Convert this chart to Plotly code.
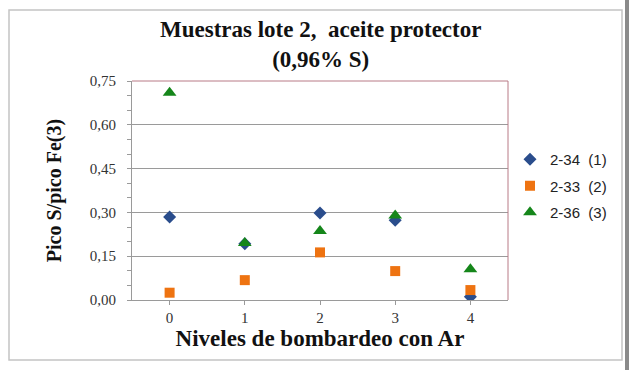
import plotly.graph_objects as go

# Bombardment levels (x categories)
niveles = [0, 1, 2, 3, 4]

# S/Fe(3) peak ratios per sample
s_2_34 = [0.284, 0.193, 0.298, 0.273, 0.011]
s_2_33 = [0.025, 0.068, 0.163, 0.099, 0.034]
s_2_36 = [0.710, 0.195, 0.236, 0.289, 0.105]

nombres = ["2-34\u00a0\u00a0(1)", "2-33\u00a0\u00a0(2)", "2-36\u00a0\u00a0(3)"]
y_ticks = [0, 0.15, 0.30, 0.45, 0.60, 0.75]
y_tick_text = ["0,00", "0,15", "0,30", "0,45", "0,60", "0,75"]

W, H = 629, 370
ML, MR, MT, MB = 132, 121, 81, 70
PW, PH = W - ML - MR, H - MT - MB


def px(xp):
    return (xp - ML) / PW


def py(yp):
    return (H - MB - yp) / PH


fig = go.Figure()
fig.add_trace(go.Scatter(
    x=niveles, y=s_2_34, mode="markers", name=nombres[0], legendgroup="a",
    marker=dict(symbol="diamond", size=10, color="#2A4D8C"),
))
fig.add_trace(go.Scatter(
    x=niveles, y=s_2_33, mode="markers", name=nombres[1], legendgroup="b",
    marker=dict(symbol="square", size=10, color="#EE7311"),
))
fig.add_trace(go.Scatter(
    x=niveles, y=s_2_36, mode="markers", name=nombres[2], legendgroup="c",
    marker=dict(symbol="triangle-up", size=12, color="#15861A"),
))

serif = "Liberation Serif, Times New Roman, serif"

fig.update_layout(
    width=W, height=H,
    margin=dict(l=ML, r=MR, t=MT, b=MB),
    paper_bgcolor="white", plot_bgcolor="white",
    annotations=[
        dict(text="<b>Muestras lote 2,\u00a0\u00a0aceite protector<br>(0,96% S)</b>",
             xref="paper", yref="paper", x=px(320), y=py(44),
             xanchor="center", yanchor="middle", showarrow=False,
             font=dict(family=serif, size=23, color="#111111")),
    ],
    showlegend=True,
    legend=dict(
        x=px(510), xanchor="left", y=py(143), yanchor="top",
        font=dict(family="Liberation Sans, Arial, sans-serif", size=15, color="#222222"),
        bgcolor="rgba(0,0,0,0)", tracegroupgap=4, itemwidth=30,
    ),
    xaxis=dict(
        range=[-0.5, 4.5], tickvals=niveles, ticktext=[str(n) for n in niveles],
        showgrid=False, zeroline=False,
        showline=True, linecolor="#9a9a9a", linewidth=1,
        ticks="outside", ticklen=4, tickcolor="#9a9a9a",
        tickfont=dict(family=serif, size=15, color="#333333"),
        title=dict(text="<b>Niveles de bombardeo con Ar</b>",
                   font=dict(family=serif, size=23, color="#111111"), standoff=2),
        fixedrange=True,
    ),
    yaxis=dict(
        range=[0, 0.75], tickvals=y_ticks, ticktext=y_tick_text,
        showgrid=True, gridcolor="#9a9a9a", gridwidth=1, zeroline=False,
        showline=True, linecolor="#9a9a9a", linewidth=1,
        ticks="outside", ticklen=4, tickcolor="#9a9a9a",
        ticklabelstandoff=8,
        minor=dict(dtick=0.05, ticks="outside", ticklen=4, tickcolor="#9a9a9a", showgrid=False),
        tickfont=dict(family=serif, size=15, color="#333333"),
        title=dict(text="<b>Pico S/pico Fe(3)</b>",
                   font=dict(family=serif, size=20, color="#111111"), standoff=22),
        fixedrange=True,
    ),
    shapes=[
        # outer chart frame
        dict(type="rect", xref="paper", yref="paper",
             x0=px(9), x1=px(622), y0=py(360), y1=py(10),
             line=dict(color="#c4c4c4", width=1.5), fillcolor="rgba(0,0,0,0)", layer="below"),
        # right-hand window edge
        dict(type="rect", xref="paper", yref="paper",
             x0=px(625), x1=px(629), y0=py(370), y1=py(0),
             line=dict(width=0), fillcolor="#8a8a8a", layer="below"),
        # plot area border (top and right)
        dict(type="line", xref="paper", yref="paper", x0=0, x1=1, y0=1, y1=1,
             line=dict(color="#b87a86", width=1)),
        dict(type="line", xref="paper", yref="paper", x0=1, x1=1, y0=0, y1=1,
             line=dict(color="#b87a86", width=1)),
    ],
)

fig.write_html("out.html")
